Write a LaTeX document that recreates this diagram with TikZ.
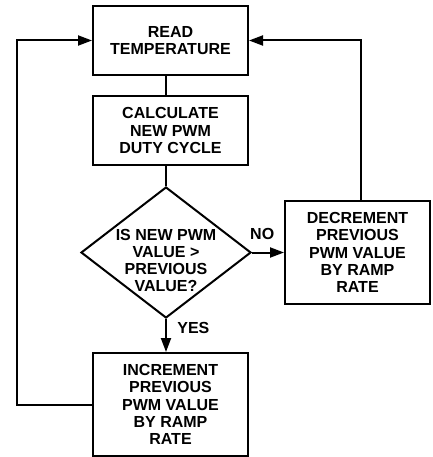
\documentclass[tikz,border=0pt]{standalone}
\usepackage{fontspec}
\setmainfont{Liberation Sans}
\usetikzlibrary{shapes.geometric, arrows.meta}
\tikzset{>={Triangle[length=14pt, width=10pt]}}
\tikzset{box/.style = {draw, line width = 2pt, align = center, inner sep = 0pt, font = \bfseries\fontsize{16}{17.3}\selectfont}}
\tikzset{decision/.style = {draw, diamond, line width = 2pt, inner sep = 0pt, minimum width = 170pt, minimum height = 131pt}}
\tikzset{lbl/.style = {font = \bfseries\fontsize{16}{17.3}\selectfont}}
\tikzset{link/.style = {line width = 2pt}}

\begin{document}
\begin{tikzpicture}[x = 1pt, y = -1pt]
	\useasboundingbox (0,0) rectangle (432,457);
	\node[box, minimum width = 155pt, minimum height = 69pt] (read) at (170.5,40.5) {READ\\TEMPERATURE};
	\node[box, minimum width = 155pt, minimum height = 69pt] (calc) at (170.5,130.5) {CALCULATE\\NEW PWM\\DUTY CYCLE};
	\node[decision, label = {[lbl, align = center, yshift = -8pt]center:{IS NEW PWM\\VALUE >\\PREVIOUS\\VALUE?}}] (cmp) at (166,252.5) {};
	\node[box, minimum width = 145pt, minimum height = 103pt] (decr) at (357.5,252.5) {DECREMENT\\PREVIOUS\\PWM VALUE\\BY RAMP\\RATE};
	\node[box, minimum width = 155pt, minimum height = 103pt] (inc) at (170.5,404.5) {INCREMENT\\PREVIOUS\\PWM VALUE\\BY RAMP\\RATE};
	\draw[link] (read.south -| cmp) -- (calc.north -| cmp);
	\draw[link] (calc.south -| cmp) -- (cmp.north);
	\draw[link, ->] (cmp.east) -- node[lbl, above = 9pt, pos = 0.32] (no) {NO} (decr.west);
	\draw[link, ->] (cmp.south) -- node[lbl, right = 7pt, pos = 0.26] (yes) {YES} (cmp.south |- inc.north);
	\draw[link, ->] ([xshift = 3pt]decr.north) |- (read.east);
	\draw[link, ->] (inc.west) -- ++(-75,0) |- (read.west);
\end{tikzpicture}
\end{document}
